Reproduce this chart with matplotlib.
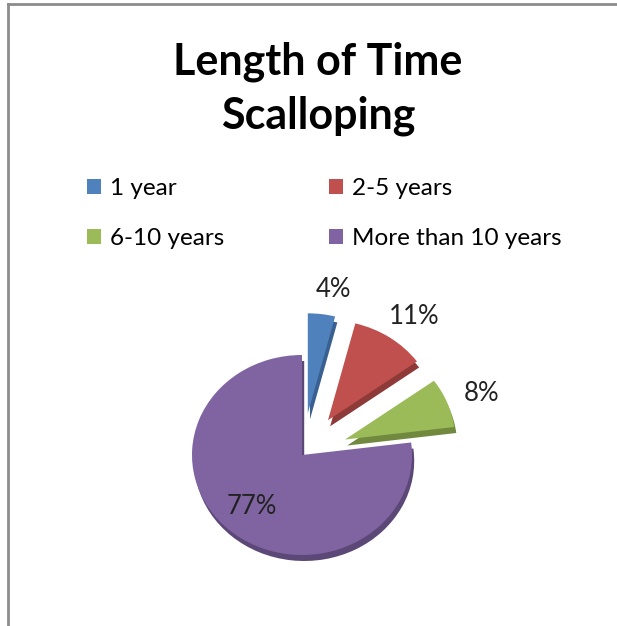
import matplotlib.pyplot as plt
from matplotlib.lines import Line2D
from matplotlib.patches import Patch
import numpy as np

# Данные диаграммы.
categories = ['1 year', '2-5 years', '6-10 years', 'More than 10 years']
shares = [4, 11, 8, 77]
pct_labels = ['4%', '11%', '8%', '77%']
colors = ['#4F81BD', '#C0504D', '#9BBB59', '#8064A2']
side_colors = ['#3A6090', '#8E3A38', '#71893F', '#5C4877']
explode = [0.42, 0.42, 0.42, 0]

plt.rcParams['font.family'] = ['Lato', 'DejaVu Sans']

W, H = 617, 626
fig = plt.figure(figsize=(W / 100, H / 100), dpi=100)
ax = fig.add_axes([0, 0, 1, 1])

# Боковая "3D" грань - тёмная копия пирога чуть ниже.
ax.pie(shares, colors=side_colors, explode=explode, startangle=90,
       counterclock=False, center=(0.02, -0.06),
       wedgeprops=dict(linewidth=0))
wedges, _, autotexts = ax.pie(shares, colors=colors, explode=explode,
                              startangle=90, counterclock=False,
                              autopct=lambda p: '', pctdistance=1.3,
                              wedgeprops=dict(linewidth=0))

# Подписи процентов.
for w, t, lab, e in zip(wedges, autotexts, pct_labels, explode):
    mid = np.deg2rad((w.theta1 + w.theta2) / 2)
    d = e + 1.25 if e > 0 else 0.69
    t.set_position((d * np.cos(mid) + (0.08 if e > 0 else 0),
                    d * np.sin(mid)))
    t.set_text(lab)
    t.set_fontsize(18.5)
    t.set_color('#222222')

# Масштаб: центр пирога в (302, 455) px, радиус 110 px по x и 100 px по y.
cx, cy = 302, 455
ax.set_aspect('auto')
ax.set_xlim(-cx / 110, (W - cx) / 110)
ax.set_ylim(-(H - cy) / 100, cy / 100)
ax.axis('off')

fig.text(318 / W, 1 - 89 / H, 'Length of Time\nScalloping', ha='center',
         va='center', fontsize=31, fontweight='bold', linespacing=1.4)

# Легенда заполняется по столбцам, поэтому порядок переставлен.
order = [0, 2, 1, 3]
handles = [Patch(facecolor=colors[i], edgecolor='none') for i in order]
fig.legend(handles, [categories[i] for i in order], ncol=2, loc='upper left',
           bbox_to_anchor=(65 / W, 1 - 156 / H), frameon=False,
           fontsize=17.5, handlelength=0.6, handleheight=0.6,
           handletextpad=0.35, columnspacing=4.3, labelspacing=1.2)

# Рамка слева и сверху.
fig.add_artist(Line2D([8 / W, 1], [1 - 4 / H, 1 - 4 / H], color='#8C8C8C',
                      lw=2, transform=fig.transFigure))
fig.add_artist(Line2D([8 / W, 8 / W], [0, 1 - 4 / H], color='#8C8C8C',
                      lw=2, transform=fig.transFigure))

fig.savefig('out.png', dpi=100)
